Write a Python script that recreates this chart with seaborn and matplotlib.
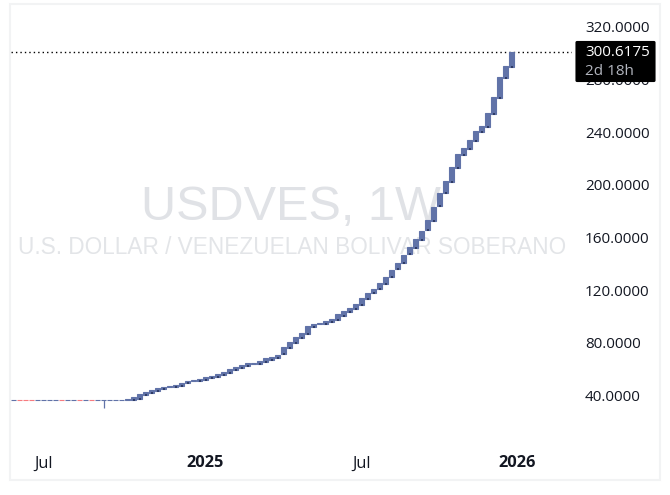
import matplotlib
matplotlib.use('Agg')
import matplotlib.pyplot as plt
import matplotlib.dates as mdates
from matplotlib.patches import FancyBboxPatch, Rectangle
import numpy as np
import pandas as pd
import seaborn as sns

# weekly candles, first one is the week of 2024-05-27
opens = [
    36.40, 36.45, 36.45, 36.45, 36.40, 36.40, 36.40, 36.40, 36.45, 36.40,
    36.40, 36.45, 36.40, 36.45, 36.40, 36.40, 36.40, 36.40, 36.40, 36.40,
    36.40, 37.20, 40.20, 41.70, 43.30, 44.80, 46.30, 46.30, 47.10, 49.30,
    50.90, 50.90, 51.60, 53.10, 53.90, 55.40, 57.00, 59.20, 60.70, 62.30,
    63.80, 63.80, 65.30, 66.80, 68.30, 71.40, 76.00, 79.70, 83.50, 86.60,
    91.90, 94.20, 94.20, 95.70, 97.20, 100.30, 103.30, 105.60, 108.60, 113.20,
    117.70, 120.80, 124.60, 129.90, 136.00, 140.80, 147.60, 151.70, 158.30, 165.60,
    172.70, 184.10, 193.90, 202.30, 213.00, 222.80, 227.40, 233.20, 240.30, 244.10,
    254.00, 266.20, 281.30, 289.70,
]
closes = [
    36.45, 36.40, 36.40, 36.40, 36.45, 36.45, 36.45, 36.45, 36.40, 36.45,
    36.45, 36.40, 36.45, 36.40, 36.45, 36.45, 36.45, 36.45, 36.45, 37.20,
    38.70, 41.00, 42.50, 44.00, 45.50, 46.30, 47.10, 47.80, 49.30, 50.90,
    51.60, 52.40, 53.90, 54.70, 56.20, 57.70, 60.00, 61.50, 63.00, 64.50,
    64.50, 66.10, 68.30, 69.10, 70.60, 76.70, 80.50, 84.30, 87.30, 92.70,
    94.20, 94.90, 96.50, 98.00, 101.80, 104.10, 106.30, 109.40, 113.90, 117.70,
    120.80, 125.30, 129.90, 135.20, 140.50, 146.60, 152.70, 158.80, 164.90, 173.20,
    183.10, 193.70, 202.90, 213.50, 223.40, 227.90, 234.00, 240.80, 244.60, 254.50,
    266.70, 281.90, 290.20, 300.6175,
]
wick_week = 15
wick_low = 30.3
y_ticks = [40, 80, 120, 160, 200, 240, 280, 320]
x_tick_dates = ['2024-07-01', '2025-01-06', '2025-07-07', '2026-01-05']
x_tick_labels = ['Jul', '2025', 'Jul', '2026']
last_price = 300.6175

W, H = 670, 495
UP = '#6173a8'
DOWN = '#f77c80'
TEXT = '#131722'
FONT = 'Open Sans'

sns.set_theme(style='white')
plt.rcParams['font.family'] = [FONT, 'DejaVu Sans']

df = pd.DataFrame({
    'date': pd.date_range('2024-05-27', periods=len(opens), freq='7D'),
    'open': opens,
    'close': closes,
})
df['num'] = mdates.date2num(df['date'])
df['height'] = df['close'] - df['open']


def fx(px):
    return px / W


def fy(px):
    return 1 - px / H


fig = plt.figure(figsize=(W / 100, H / 100), dpi=100, facecolor='white')
ax = fig.add_axes([fx(11), fy(479), fx(572 - 11), (479 - 5) / H])

# pane frame
fig.add_artist(Rectangle((fx(10), fy(480)), fx(649.5), 476 / H, fill=False,
                         edgecolor='#f2f3f4', linewidth=1.5))

# watermark
ax.text(fx(291), fy(207), 'USDVES, 1W', transform=fig.transFigure, ha='center', va='center',
        fontsize=35, color='#e0e2e6', family='Liberation Sans', zorder=0)
ax.text(fx(292), fy(248), 'U.S. DOLLAR / VENEZUELAN BOLIVAR SOBERANO', transform=fig.transFigure,
        ha='center', va='center', fontsize=16.3, color='#e3e5e8', family='Liberation Sans', zorder=0)

# candle bodies
is_up = df['close'] >= df['open']
for mask, colour in [(is_up, UP), (~is_up, DOWN)]:
    part = df[mask]
    sns.barplot(x=part['num'].values, y=part['height'].values, bottom=part['open'].values,
                native_scale=True, width=0.68, color=colour, saturation=1, errorbar=None,
                edgecolor=colour, linewidth=0.8, ax=ax, zorder=3)

# lower wicks, only seen under the real bodies
solid = df[df['height'] > 1]
sns.scatterplot(x=solid['num'], y=solid['open'], marker='s', s=0.8, color='#2f3c66', linewidth=0,
                ax=ax, zorder=4)
ax.vlines(df['num'].iloc[wick_week], wick_low, df['open'].iloc[wick_week], color=UP, lw=0.9, zorder=3)

# last price line
ax.axhline(last_price, color='black', lw=1, linestyle=(0, (1, 2.2)), zorder=2)

k_to_num = lambda k: df['num'].iloc[0] + 7 * k
ax.set_xlim(k_to_num((11 - 13.5) / 6), k_to_num((572 - 13.5) / 6))
ax.set_ylim(-23.55, 336.6)

ax.set_xlabel('')
ax.set_ylabel('')
ax.set_xticks(mdates.date2num(pd.to_datetime(x_tick_dates)))
ax.set_xticklabels(x_tick_labels)
for lab in ax.get_xticklabels():
    lab.set_fontsize(11.8)
    lab.set_color(TEXT)
    if lab.get_text() != 'Jul':
        lab.set_fontweight('bold')
ax.tick_params(axis='x', length=0, pad=-17)

ax.yaxis.tick_right()
ax.set_yticks(y_ticks)
ax.set_yticklabels([f'{v:.4f}' for v in y_ticks])
ax.tick_params(axis='y', length=0, pad=9.4, labelsize=11, labelcolor=TEXT)
ax.grid(False)
sns.despine(ax=ax, left=True, bottom=True, right=True, top=True)

# last price tag over the axis
ax.add_patch(FancyBboxPatch((fx(576), fy(81.5)), fx(79), 40 / H,
                            boxstyle='round,pad=0,rounding_size=0.002', transform=fig.transFigure,
                            facecolor='black', edgecolor='black', lw=0.8, clip_on=False, zorder=6))
ax.text(fx(585), fy(52.5), f'{last_price:.4f}', transform=fig.transFigure, va='center', ha='left',
        color='white', fontsize=11, zorder=7)
ax.text(fx(585), fy(71.5), '2d 18h', transform=fig.transFigure, va='center', ha='left',
        color='#b2b5be', fontsize=11, zorder=7)

fig.savefig('out.png', dpi=100)
